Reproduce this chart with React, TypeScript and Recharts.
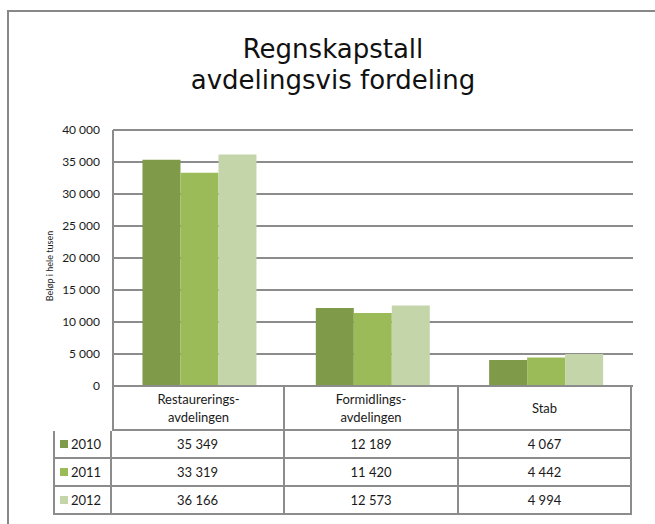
import { BarChart, Bar, XAxis, YAxis, CartesianGrid } from 'recharts';

const categories = ['Restaurerings-\navdelingen', 'Formidlings-\navdelingen', 'Stab'];
const years = ['2010', '2011', '2012'];
const values2010 = [35349, 12189, 4067];
const values2011 = [33319, 11420, 4442];
const values2012 = [36166, 12573, 4994];
const yTicks = [0, 5000, 10000, 15000, 20000, 25000, 30000, 35000, 40000];

const COLORS = ['#7F9A48', '#9BBB59', '#C4D6A9'];
const GRID = '#8C8C8C';
const FONT = 'Lato, "Liberation Sans", sans-serif';

const series = [values2010, values2011, values2012];

const data = categories.map((name, i) => ({
  name,
  y2010: values2010[i],
  y2011: values2011[i],
  y2012: values2012[i],
}));

const fmt = (v: number) => String(v).replace(/\B(?=(\d{3})+(?!\d))/g, ' ');

// table geometry
const colWidths = [59, 173, 174, 173];
const rowHeights = [46, 28, 28, 28];

const DataTable = () => {
  const cells: any[] = [];
  const line = `2px solid ${GRID}`;
  // header row
  cells.push(<div key="h0" />);
  categories.forEach((c, i) => {
    cells.push(
      <div
        key={`h${i + 1}`}
        style={{
          borderTop: line,
          borderLeft: i === 0 ? line : undefined,
          borderRight: line,
          borderBottom: line,
          display: 'flex',
          alignItems: 'center',
          justifyContent: 'center',
          textAlign: 'center',
          whiteSpace: 'pre-line',
          lineHeight: '18px',
        }}
      >
        {c}
      </div>
    );
  });
  years.forEach((y, r) => {
    cells.push(
      <div
        key={`l${r}`}
        style={{
          borderLeft: line,
          borderRight: line,
          borderBottom: line,
          display: 'flex',
          alignItems: 'center',
          paddingLeft: 5,
        }}
      >
        <span style={{ width: 8, height: 8, background: COLORS[r], display: 'inline-block', marginRight: 3 }} />
        {y}
      </div>
    );
    series[r].forEach((v, i) => {
      cells.push(
        <div
          key={`c${r}-${i}`}
          style={{
            borderRight: line,
            borderBottom: line,
            display: 'flex',
            alignItems: 'center',
            justifyContent: 'center',
          }}
        >
          {fmt(v)}
        </div>
      );
    });
  });
  return (
    <div
      style={{
        position: 'absolute',
        left: 53,
        top: 385,
        display: 'grid',
        gridTemplateColumns: colWidths.map(w => `${w}px`).join(' '),
        gridTemplateRows: rowHeights.map(h => `${h}px`).join(' '),
        fontFamily: FONT,
        fontSize: 13,
        color: '#1a1a1a',
        boxSizing: 'border-box',
      }}
    >
      {cells.map((c, i) => (
        <div key={i} style={{ display: 'contents' }}>{c}</div>
      ))}
    </div>
  );
};

export default function App() {
  return (
    <div style={{ position: 'fixed', left: 0, top: 0, width: 655, height: 524, overflow: 'hidden', background: '#fff' }}>
      <style>{'html,body{margin:0;overflow:hidden;}'}</style>
      <div
        style={{
          position: 'absolute',
          left: 7,
          top: 10,
          width: 648,
          height: 514,
          borderTop: '2px solid #888',
          borderLeft: '2px solid #888',
        }}
      />
      <div
        style={{
          position: 'absolute',
          left: 133,
          top: 34,
          width: 400,
          textAlign: 'center',
          fontFamily: '"DejaVu Sans", sans-serif',
          fontSize: 26,
          lineHeight: '31px',
          color: '#111',
        }}
      >
        Regnskapstall
        <br />
        avdelingsvis fordeling
      </div>
      <div
        style={{
          position: 'absolute',
          left: 49,
          top: 266,
          transform: 'translate(-50%, -50%) rotate(-90deg)',
          fontFamily: FONT,
          fontSize: 9,
          whiteSpace: 'nowrap',
          color: '#222',
        }}
      >
        Beløp i hele tusen
      </div>
      <div style={{ position: 'absolute', left: 0, top: 0 }}>
        <BarChart
          width={655}
          height={524}
          data={data}
          margin={{ top: 130, right: 22, bottom: 138, left: 53 }}
          barCategoryGap="17%"
          barGap={0}
        >
          <CartesianGrid vertical={false} stroke={GRID} strokeWidth={2} />
          <XAxis dataKey="name" hide />
          <YAxis
            width={60}
            domain={[0, 40000]}
            ticks={yTicks}
            tickFormatter={fmt}
            axisLine={{ stroke: GRID, strokeWidth: 2 }}
            tickLine={false}
            tickMargin={7}
            interval={0}
            tick={{ fill: '#1a1a1a', fontSize: 12, fontFamily: FONT }}
          />
          {years.map((y, i) => (
            <Bar key={y} dataKey={`y${y}`} fill={COLORS[i]} isAnimationActive={false} />
          ))}
        </BarChart>
      </div>
      <DataTable />
    </div>
  );
}
